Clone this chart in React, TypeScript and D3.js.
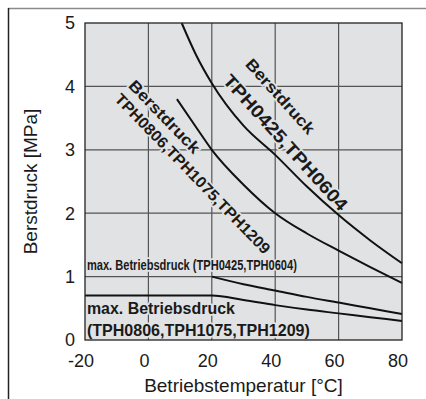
import * as d3 from "d3";

// x: Betriebstemperatur [°C], y: Berstdruck [MPa]
const xTicks = [-20, 0, 20, 40, 60, 80];
const yTicks = [0, 1, 2, 3, 4, 5];

// Berstdruck TPH0425, TPH0604
const burstATemp = [10.5, 15, 20, 30, 40, 50, 60, 70, 80];
const burstAPress = [5.0, 4.5, 4.05, 3.38, 2.92, 2.42, 1.97, 1.57, 1.21];

// Berstdruck TPH0806, TPH1075, TPH1209
const burstBTemp = [9, 15, 20, 30, 40, 50, 60, 70, 80];
const burstBPress = [3.8, 3.36, 3.0, 2.45, 2.0, 1.68, 1.41, 1.15, 0.9];

// max. Betriebsdruck TPH0425, TPH0604
const maxATemp = [20, 30, 40, 50, 60, 70, 80];
const maxAPress = [1.0, 0.88, 0.78, 0.68, 0.59, 0.5, 0.41];

// max. Betriebsdruck TPH0806, TPH1075, TPH1209
const maxBTemp = [-20, 0, 20, 30, 40, 50, 60, 70, 80];
const maxBPress = [0.7, 0.7, 0.7, 0.63, 0.55, 0.48, 0.42, 0.36, 0.3];

const xTitle = "Betriebstemperatur [°C]";
const yTitle = "Berstdruck [MPa]";

const BG = "#e1e2e4";
const INK = "#1a1a1a";
const SANS = "'Liberation Sans', Arial, Helvetica, sans-serif";
const NARROW = "'Liberation Sans Narrow', 'Liberation Sans', Arial, sans-serif";

export default function App() {
  const width = 426;
  const height = 399;
  const left = 85, right = 402, top = 23, bottom = 340;

  const x = d3.scaleLinear().domain([-20, 80]).range([left, right]);
  const y = d3.scaleLinear().domain([0, 5]).range([bottom, top]);

  const line = d3
    .line<[number, number]>()
    .x((d) => x(d[0]))
    .y((d) => y(d[1]))
    .curve(d3.curveMonotoneX);

  const series = [
    d3.zip(burstATemp, burstAPress) as [number, number][],
    d3.zip(burstBTemp, burstBPress) as [number, number][],
    d3.zip(maxATemp, maxAPress) as [number, number][],
    d3.zip(maxBTemp, maxBPress) as [number, number][],
  ];

  const halo = {
    stroke: BG,
    strokeWidth: 3.5,
    paintOrder: "stroke" as const,
    strokeLinejoin: "round" as const,
  };

  // rotated label helper, anchored in data coordinates
  const diag = (
    t: number,
    p: number,
    angle: number,
    text: string,
    size: number,
    len: number
  ) => (
    <text
      key={text + t}
      transform={`translate(${x(t)},${y(p)}) rotate(${angle})`}
      fontFamily={SANS}
      fontWeight="bold"
      fontSize={size}
      fill={INK}
      textLength={len}
      lengthAdjust="spacingAndGlyphs"
      style={halo}
    >
      {text}
    </text>
  );

  return (
    <svg
      width={width}
      height={height}
      style={{ position: "absolute", left: 0, top: 0, background: "#fff" }}
    >
      {/* frame */}
      <line x1={8} x2={width} y1={8.5} y2={8.5} stroke="#8a8a8a" strokeWidth={1.5} />
      <line x1={8.5} x2={8.5} y1={8} y2={height} stroke="#222" strokeWidth={1.5} />

      <rect x={left} y={top} width={right - left} height={bottom - top} fill={BG} />

      {/* grid */}
      {xTicks.slice(1, -1).map((t) => (
        <line key={"gx" + t} x1={x(t)} x2={x(t)} y1={top} y2={bottom} stroke="#555" strokeWidth={1.2} />
      ))}
      {yTicks.slice(1, -1).map((p) => (
        <line key={"gy" + p} x1={left} x2={right} y1={y(p)} y2={y(p)} stroke="#555" strokeWidth={1.2} />
      ))}

      {/* labels */}
      {diag(-6.6, 4.0, 46, "Berstdruck", 16, 95)}
      {diag(-10.9, 3.79, 46, "TPH0806,TPH1075,TPH1209", 15.5, 216)}
      {diag(30.3, 4.34, 48, "Berstdruck", 16, 95)}
      {diag(23.2, 4.08, 48, "TPH0425,TPH0604", 18, 176)}

      <text
        x={x(-19.4)}
        y={y(1.1)}
        fontFamily={NARROW}
        fontWeight="bold"
        fontSize={14}
        fill={INK}
        textLength={210}
        lengthAdjust="spacingAndGlyphs"
        style={halo}
      >
        max. Betriebsdruck (TPH0425,TPH0604)
      </text>
      <text
        x={x(-19.4)}
        y={y(0.41)}
        fontFamily={SANS}
        fontWeight="bold"
        fontSize={17}
        fill={INK}
        textLength={148}
        lengthAdjust="spacingAndGlyphs"
        style={halo}
      >
        max. Betriebsdruck
      </text>
      <text
        x={x(-19.4)}
        y={y(0.065)}
        fontFamily={SANS}
        fontWeight="bold"
        fontSize={17}
        fill={INK}
        textLength={223}
        lengthAdjust="spacingAndGlyphs"
        style={halo}
      >
        (TPH0806,TPH1075,TPH1209)
      </text>

      {/* curves */}
      {series.map((d, i) => (
        <path key={i} d={line(d) || ""} fill="none" stroke="#111" strokeWidth={2} />
      ))}

      <rect
        x={left}
        y={top}
        width={right - left}
        height={bottom - top}
        fill="none"
        stroke="#222"
        strokeWidth={1.3}
      />

      {/* axes labels */}
      {xTicks.map((t) => (
        <text
          key={"tx" + t}
          x={x(t) - 4}
          y={367}
          textAnchor="middle"
          fontFamily={SANS}
          fontSize={18}
          fill={INK}
        >
          {t}
        </text>
      ))}
      {yTicks.map((p) => (
        <text
          key={"ty" + p}
          x={left - 10}
          y={y(p)}
          dy="0.36em"
          textAnchor="end"
          fontFamily={SANS}
          fontSize={18}
          fill={INK}
        >
          {p}
        </text>
      ))}
      <text
        x={(left + right) / 2}
        y={391.5}
        textAnchor="middle"
        fontFamily={SANS}
        fontSize={19}
        fill={INK}
      >
        {xTitle}
      </text>
      <text
        transform={`translate(37,${(top + bottom) / 2}) rotate(-90)`}
        textAnchor="middle"
        fontFamily={SANS}
        fontSize={19}
        fill={INK}
      >
        {yTitle}
      </text>
    </svg>
  );
}
